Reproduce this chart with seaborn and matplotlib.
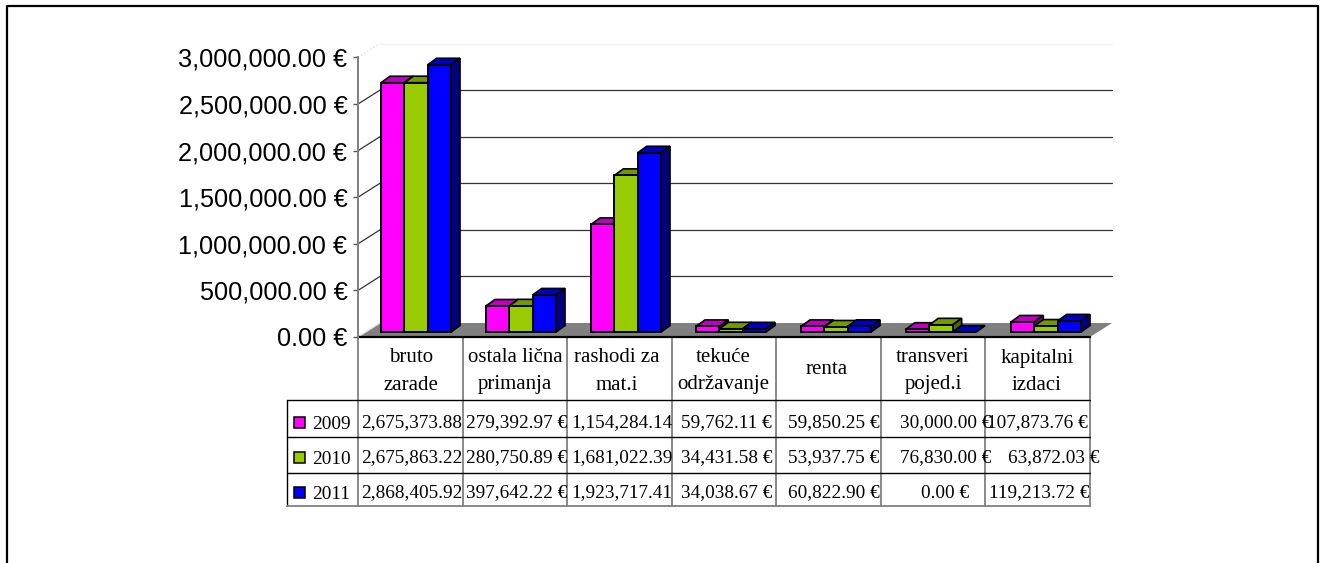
import matplotlib
matplotlib.use('Agg')
import matplotlib.pyplot as plt
import pandas as pd
import seaborn as sns
from matplotlib.patches import Polygon, Rectangle
from matplotlib.transforms import Affine2D, Bbox

W, H = 1324, 563

categories = ['bruto\nzarade', 'ostala lična\nprimanja', 'rashodi za\nmat.i', 'tekuće\nodržavanje',
              'renta', 'transveri\npojed.i', 'kapitalni\nizdaci']
years = ['2009', '2010', '2011']
values_2009 = [2675373.88, 279392.97, 1154284.14, 59762.11, 59850.25, 30000.00, 107873.76]
values_2010 = [2675863.22, 280750.89, 1681022.39, 34431.58, 53937.75, 76830.00, 63872.03]
values_2011 = [2868405.92, 397642.22, 1923717.41, 34038.67, 60822.90, 0.00, 119213.72]
y_ticks = [0, 500000, 1000000, 1500000, 2000000, 2500000, 3000000]

colors = ['#FF00FF', '#99CC00', '#0000FF']
top_colors = ['#C000C0', '#739900', '#0000C0']
side_colors = ['#800080', '#4D6600', '#000080']

df = pd.DataFrame({
    'cat': categories * 3,
    'year': [y for y in years for _ in categories],
    'value': values_2009 + values_2010 + values_2011,
})

sns.set_style('white')
plt.rcParams['font.family'] = ['Liberation Sans', 'DejaVu Sans']

fig = plt.figure(figsize=(W / 100, H / 100), dpi=100)

# pixel overlay for frame, wall, floor and the data table
bg = fig.add_axes([0, 0, 1, 1], zorder=0)
bg.set_xlim(0, W)
bg.set_ylim(H, 0)
bg.axis('off')

# chart axes
x0, x1, y0, y3 = 358, 1090, 337, 57.5
x1_bars = 1093
ax = fig.add_axes([x0 / W, 1 - y0 / H, (x1_bars - x0) / W, (y0 - y3) / H], zorder=1)
ax.patch.set_alpha(0)
sns.barplot(data=df, x='cat', y='value', hue='year', palette=colors, saturation=1,
            width=0.667, gap=0, edgecolor='black', linewidth=1.4, legend=False, ax=ax)
ax.set_xlim(-0.5, 6.5)
ax.set_ylim(0, 3000000)
ax.set_xlabel('')
ax.set_ylabel('')
ax.set_xticks([])
ax.set_yticks(y_ticks)
ax.set_yticklabels([f'{v:,.2f} €' for v in y_ticks], fontsize=18.2, color='black')
ax.tick_params(axis='y', left=True, length=3.6, width=1, color='#555555', pad=4)
for name in ['top', 'right', 'bottom']:
    ax.spines[name].set_visible(False)
ax.spines['left'].set_color('#808080')
ax.spines['left'].set_linewidth(1.4)

# frame
bg.plot([6.5, 6.5, 1318, 1318], [H, 6, 6, H], color='black', lw=1.6)

# back wall and floor
wall_dx, wall_dy = 22, 14
bg.add_patch(Polygon([(x0, y0), (x0 + wall_dx, y0 - wall_dy), (x1 + wall_dx, y0 - wall_dy), (x1, y0)],
                     closed=True, facecolor='#808080', edgecolor='none'))
bg.plot([x0 + wall_dx, x1 + wall_dx], [y3 - wall_dy, y3 - wall_dy], color='#f0f0f0', lw=1)
bg.plot([x0, x0 + wall_dx], [y3, y3 - wall_dy], color='#dddddd', lw=1, ls=':')
bg.plot([x0, x0 + wall_dx], [y0, y0 - wall_dy], color='#dddddd', lw=1)
px_per_val = (y0 - y3) / 3000000
for v in y_ticks[1:-1]:
    yy = y0 - v * px_per_val
    bg.plot([x0, x0 + wall_dx], [yy, yy - wall_dy], color='#333333', lw=0.9)
    bg.plot([x0 + wall_dx, x1 + wall_dx], [yy - wall_dy, yy - wall_dy], color='#333333', lw=0.9)

# shift bars off the axis plane and add the 3d faces
shift = Affine2D().translate(5.5, 5)
depth_x, depth_y = 9, 6.5
to_px = ax.transData + shift
z = 3
for c in range(len(categories)):
    for h, cont in enumerate(ax.containers):
        p = cont.patches[c]
        p.set_transform(to_px)
        p.set_zorder(z + 2)
        (xa, ya), (xb, yb) = to_px.transform([(p.get_x(), 0), (p.get_x() + p.get_width(), p.get_height())])
        ax_inv = ax.transAxes.inverted()
        top = [(xa, yb), (xb, yb), (xb + depth_x, yb + depth_y), (xa + depth_x, yb + depth_y)]
        side = [(xb, ya), (xb + depth_x, ya + depth_y), (xb + depth_x, yb + depth_y), (xb, yb)]
        ax.add_patch(Polygon(ax_inv.transform(top), closed=True, transform=ax.transAxes, clip_on=False,
                             facecolor=top_colors[h], edgecolor='black', lw=1.2, zorder=z))
        ax.add_patch(Polygon(ax_inv.transform(side), closed=True, transform=ax.transAxes, clip_on=False,
                             facecolor=side_colors[h], edgecolor='black', lw=1.2, zorder=z + 1))
        p.set_clip_on(False)
        z += 3

# data table
col_edges = [358, 463, 567, 672, 776, 881, 985, 1090]
row_edges = [400, 437, 473, 506]
for xe in col_edges:
    bg.plot([xe, xe], [y0, row_edges[-1]], color='#808080', lw=1.3)
bg.plot([x0, x1], [y0, y0], color='black', lw=1.6, zorder=5)
bg.plot([287, 287], [row_edges[0], row_edges[-1]], color='black', lw=1)
for ye in row_edges[:-1]:
    bg.plot([287, x1], [ye, ye], color='black', lw=1)
bg.plot([287, x1], [row_edges[-1], row_edges[-1]], color='#808080', lw=1.3)

serif = ['Liberation Serif', 'DejaVu Serif']
head_x = [411, 515, 617, 723, 827, 933, 1037]
for label, hx in zip(categories, head_x):
    lines = label.split('\n')
    ys = [358, 385] if len(lines) == 2 else [370]
    for line, hy in zip(lines, ys):
        bg.text(hx, hy, line, ha='center', va='center', family=serif, fontsize=15, color='black')

row_base = [427, 462, 497.5]
year_base = [429, 464, 499]
key_y = [422, 457, 492]
series = [values_2009, values_2010, values_2011]
left_cols = {0: 361, 1: 466, 2: 571.5}
center_cols = {3: 726.5, 4: 834, 5: 945.5}
last_col = [1037, 1054, 1039.5]
for r, vals in enumerate(series):
    bg.add_patch(Rectangle((293.5, key_y[r] - 5.5), 11, 11, facecolor=colors[r], edgecolor='black', lw=1.1))
    bg.text(312, year_base[r], years[r], ha='left', va='baseline', family=serif, fontsize=13.9, color='black')
    for c, v in enumerate(vals):
        s = f'{v:,.2f} €'
        if c in left_cols:
            # the euro sign does not fit in the million-sized cells
            if c != 1:
                s = f'{v:,.2f}'
            t = bg.text(left_cols[c], row_base[r], s, ha='left', va='baseline', family=serif, fontsize=13.9, color='black')
            t.set_clip_box(Bbox([[left_cols[c] - 3, 0], [col_edges[c + 1], H]]))
            t.set_clip_on(True)
        else:
            cx = center_cols.get(c, last_col[r])
            bg.text(cx, row_base[r], s, ha='center', va='baseline', family=serif, fontsize=13.9, color='black')

fig.savefig('out.png', dpi=100)
